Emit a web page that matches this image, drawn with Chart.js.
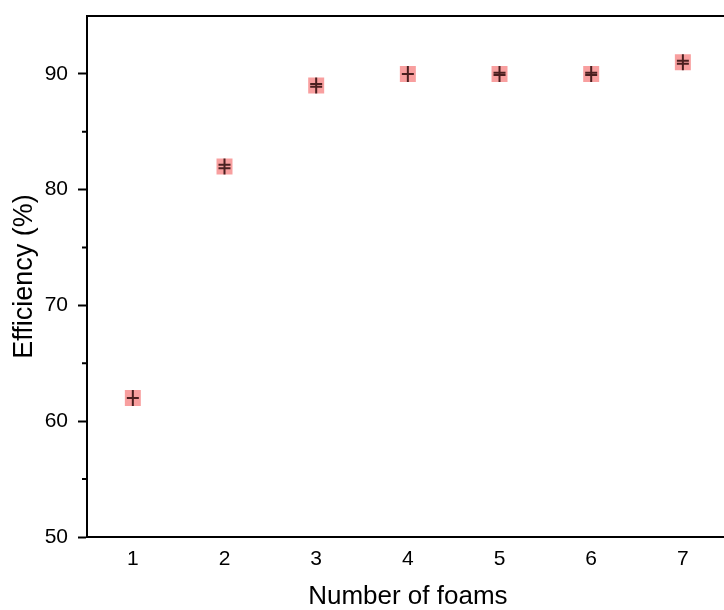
<!DOCTYPE html>
<html lang="en">
<head>
    <meta charset="UTF-8">
    <title>Efficiency vs Number of foams</title>
    <style>
        html, body { margin: 0; padding: 0; overflow: hidden; background: #fff; }
        #chart-container { width: 740px; height: 610px; }
    </style>
</head>
<body>
    <div id="chart-container">
        <canvas id="effChart" width="740" height="610"></canvas>
    </div>

    <script src="https://cdn.jsdelivr.net/npm/chart.js"></script>

    <script>
        // Data
        const foams = [1, 2, 3, 4, 5, 6, 7];
        const efficiency = [62, 82, 89, 90, 90, 90, 91];
        const errors = [0, 0.15, 0.12, 0, 0.1, 0.1, 0.13]; // +/- error (%)
        const xTicks = [1, 2, 3, 4, 5, 6, 7];
        const yTicks = [50, 60, 70, 80, 90];
        const yMinorTicks = [55, 65, 75, 85];

        const font = "'Liberation Sans', Arial, sans-serif";

        // error bars, '+' symbol, minor ticks and top frame line
        const extras = {
            id: 'extras',
            afterDatasetsDraw(chart) {
                const c = chart.ctx;
                const xs = chart.scales.x, ys = chart.scales.y;
                const area = chart.chartArea;
                c.save();
                c.strokeStyle = 'rgba(30,0,0,0.8)';
                c.lineWidth = 2;
                foams.forEach((f, i) => {
                    const px = xs.getPixelForValue(f);
                    const py = ys.getPixelForValue(efficiency[i]);
                    c.beginPath();
                    c.moveTo(px, py - 8);
                    c.lineTo(px, py + 8);
                    [efficiency[i] - errors[i], efficiency[i] + errors[i]].forEach(v => {
                        const cy = ys.getPixelForValue(v);
                        c.moveTo(px - 6, cy);
                        c.lineTo(px + 6, cy);
                    });
                    c.stroke();
                });
                c.restore();

                c.save();
                c.strokeStyle = '#000';
                c.lineWidth = 2;
                c.beginPath();
                yMinorTicks.forEach(v => {
                    const py = ys.getPixelForValue(v);
                    c.moveTo(area.left - 5, py);
                    c.lineTo(area.left, py);
                });
                c.moveTo(area.left - 1, area.top);
                c.lineTo(chart.width, area.top);
                c.stroke();
                c.restore();
            }
        };

        new Chart(document.getElementById('effChart'), {
            type: 'scatter',
            data: {
                datasets: [{
                    label: 'Efficiency',
                    data: foams.map((f, i) => ({ x: f, y: efficiency[i] })),
                    pointStyle: 'rect',
                    pointRadius: 11.3,
                    pointHoverRadius: 11.3,
                    backgroundColor: 'rgba(242, 80, 80, 0.55)',
                    borderWidth: 0
                }]
            },
            options: {
                responsive: false,
                animation: false,
                layout: { padding: { top: 16, right: 8, left: 0, bottom: 0 } },
                plugins: {
                    legend: { display: false },
                    tooltip: { enabled: false }
                },
                scales: {
                    x: {
                        type: 'linear',
                        min: 0.5,
                        max: 7.5,
                        afterBuildTicks: s => { s.ticks = xTicks.map(v => ({ value: v })); },
                        afterFit: s => { s.height = 73; s.paddingLeft = 0; s.paddingRight = 0; },
                        grid: { drawOnChartArea: false, drawTicks: false },
                        border: { display: true, color: '#000', width: 2 },
                        ticks: {
                            color: '#000',
                            padding: 10,
                            font: { family: font, size: 21 }
                        },
                        title: {
                            display: true,
                            text: 'Number of foams',
                            color: '#000',
                            padding: { top: 0, bottom: 0 },
                            font: { family: font, size: 26, lineHeight: 1 }
                        }
                    },
                    y: {
                        min: 50,
                        max: 95,
                        afterBuildTicks: s => { s.ticks = yTicks.map(v => ({ value: v })); },
                        afterFit: s => { s.width = 87; s.paddingTop = 0; s.paddingBottom = 0; },
                        grid: {
                            drawOnChartArea: false,
                            drawTicks: true,
                            tickLength: 9,
                            tickWidth: 2,
                            tickColor: '#000'
                        },
                        border: { display: true, color: '#000', width: 2 },
                        ticks: {
                            color: '#000',
                            padding: 10,
                            font: { family: font, size: 21 }
                        },
                        title: {
                            display: true,
                            text: 'Efficiency (%)',
                            color: '#000',
                            padding: { top: 11, bottom: 0 },
                            font: { family: font, size: 27, lineHeight: 1 }
                        }
                    }
                }
            },
            plugins: [extras]
        });
    </script>
</body>
</html>
